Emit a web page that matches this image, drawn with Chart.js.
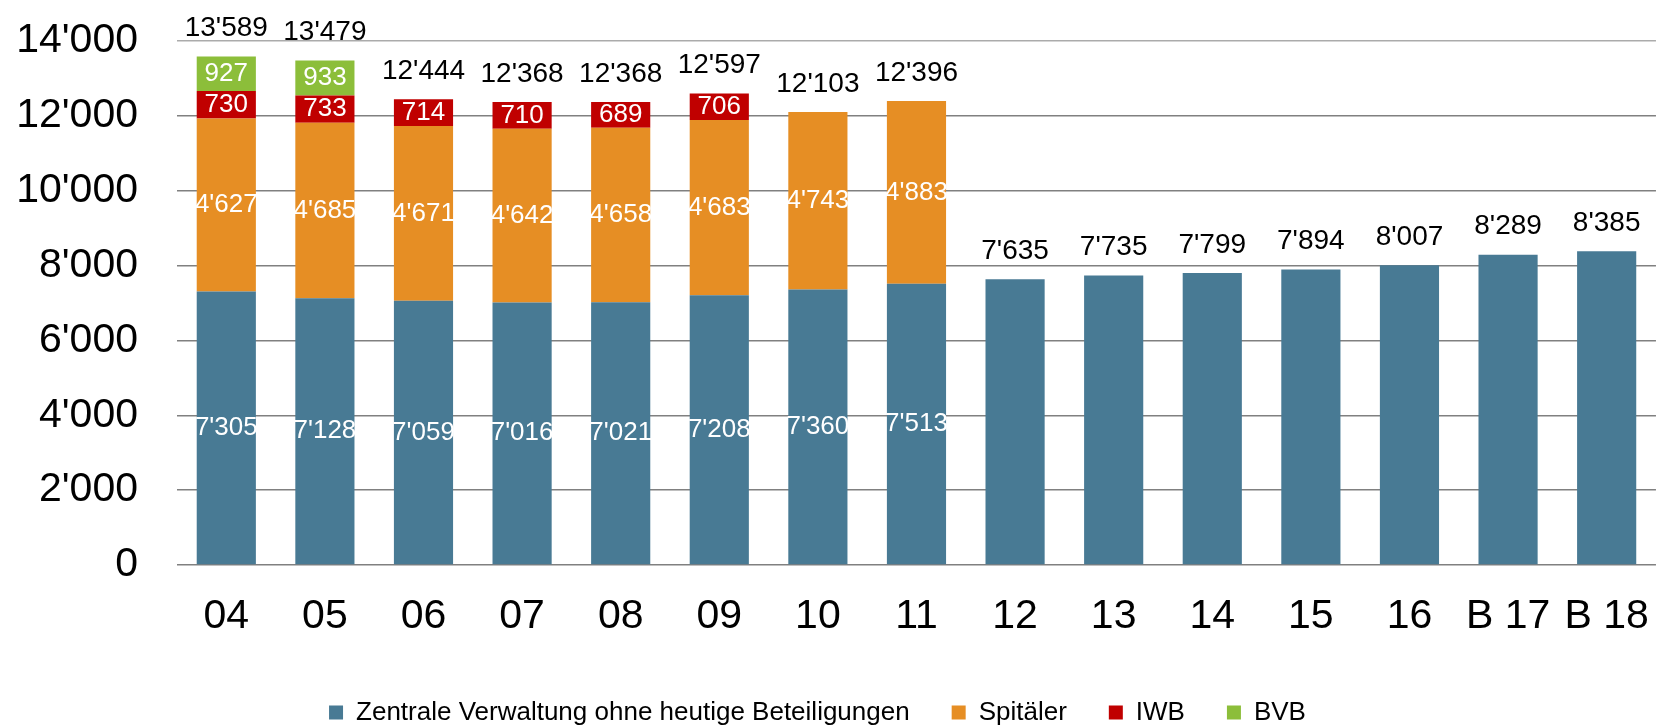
<!DOCTYPE html>
<html>
<head>
<meta charset="utf-8">
<script src="https://cdn.jsdelivr.net/npm/chart.js@4"></script>
<style>
  body { margin: 0; background: #fff; }
</style>
</head>
<body>
<canvas id="barChart" width="1668" height="728"></canvas>
<script>
var jahre = ["04", "05", "06", "07", "08", "09", "10", "11", "12", "13", "14", "15", "16", "B 17", "B 18"];
var zentrale = [7305, 7128, 7059, 7016, 7021, 7208, 7360, 7513, 7635, 7735, 7799, 7894, 8007, 8289, 8385];
var spitaeler = [4627, 4685, 4671, 4642, 4658, 4683, 4743, 4883, null, null, null, null, null, null, null];
var iwb = [730, 733, 714, 710, 689, 706, null, null, null, null, null, null, null, null, null];
var bvb = [927, 933, null, null, null, null, null, null, null, null, null, null, null, null, null];
var yTicks = [0, 2000, 4000, 6000, 8000, 10000, 12000, 14000];

var FONT = "'Liberation Sans', Arial, sans-serif";

function fmt(v) {
    return String(v).replace(/\B(?=(\d{3})+(?!\d))/g, "'");
}

// Beschriftungen in den Segmenten und Totale oberhalb
var labelPlugin = {
    id: 'labels',
    afterDatasetsDraw: function (chart) {
        var ctx = chart.ctx;
        var yScale = chart.scales.y;
        ctx.save();
        ctx.textAlign = 'center';
        ctx.textBaseline = 'middle';
        for (var j = 0; j < jahre.length; j++) {
            var total = 0, segs = 0;
            chart.data.datasets.forEach(function (ds) {
                if (ds.data[j] != null) { total += ds.data[j]; segs++; }
            });
            var x = chart.getDatasetMeta(0).data[j].x;
            if (segs > 1) {
                chart.data.datasets.forEach(function (ds, i) {
                    var v = ds.data[j];
                    if (v == null) return;
                    var bar = chart.getDatasetMeta(i).data[j];
                    ctx.font = '26px ' + FONT;
                    ctx.fillStyle = '#ffffff';
                    ctx.fillText(fmt(v), x, (bar.y + bar.base) / 2);
                });
            }
            ctx.font = '28px ' + FONT;
            ctx.fillStyle = '#000000';
            ctx.fillText(fmt(total), x, yScale.getPixelForValue(total) - 28);
        }
        ctx.restore();
    },
    afterLayout: function (chart) {
        // Legende etwas nach unten / links wie im Original
        var lg = chart.legend;
        lg.top += 7.5; lg.bottom += 7.5;
        lg.left -= 14; lg.right -= 14;
    }
};

var barData = {
    labels: jahre,
    datasets: [
        { label: "Zentrale Verwaltung ohne heutige Beteiligungen", backgroundColor: '#487A94', data: zentrale },
        { label: "Spitäler", backgroundColor: '#E68E24', data: spitaeler },
        { label: "IWB", backgroundColor: '#C00000', data: iwb },
        { label: "BVB", backgroundColor: '#8CBE3A', data: bvb }
    ]
};

var barOptions = {
    responsive: false,
    animation: false,
    devicePixelRatio: 1,
    categoryPercentage: 1,
    barPercentage: 0.6,
    layout: { padding: { top: 41, right: 5, bottom: 0, left: 0 } },
    plugins: {
        tooltip: { enabled: false },
        legend: {
            position: 'bottom',
            labels: {
                color: '#000',
                font: { family: FONT, size: 26 },
                boxWidth: 14,
                boxHeight: 14,
                padding: 42
            }
        }
    },
    scales: {
        x: {
            stacked: true,
            grid: { display: false },
            border: { display: false },
            ticks: { color: '#000', font: { family: FONT, size: 41 }, padding: 19, maxRotation: 0, autoSkip: false },
            afterFit: function (s) { s.height = 85; }
        },
        y: {
            stacked: true,
            min: 0,
            max: 14000,
            afterBuildTicks: function (s) { s.ticks = yTicks.map(function (v) { return { value: v }; }); },
            grid: {
                drawTicks: false,
                lineWidth: 1.5,
                color: function (c) { return c.tick && c.tick.value === 14000 ? '#ababab' : '#808080'; }
            },
            border: { display: false },
            ticks: {
                color: '#000',
                font: { family: FONT, size: 41 },
                padding: 39,
                callback: function (v) { return fmt(v); }
            },
            afterFit: function (s) {
                s.width = 177;
                s.paddingTop = 0;
                s.paddingBottom = 0;
            }
        }
    }
};

var ctx2 = document.getElementById("barChart").getContext("2d");
new Chart(ctx2, { type: 'bar', data: barData, options: barOptions, plugins: [labelPlugin] });
</script>
</body>
</html>
